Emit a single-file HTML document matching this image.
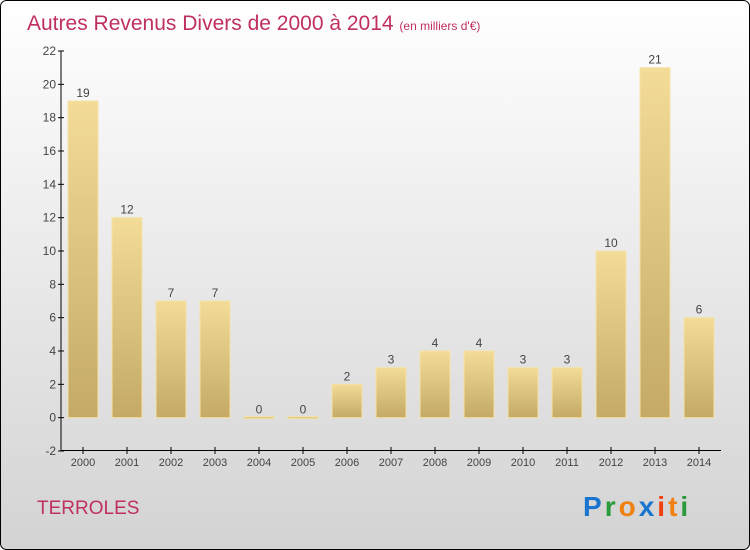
<!DOCTYPE html>
<html><head><meta charset="utf-8"><style>
body{margin:0}
svg{display:block;font-family:"Liberation Sans",sans-serif}
</style></head><body>
<svg id="c" width="750" height="550" xmlns="http://www.w3.org/2000/svg">
<defs>
<linearGradient id="bg" x1="0" y1="0" x2="0" y2="1"><stop offset="0" stop-color="#ffffff"/><stop offset="1" stop-color="#d3d3d3"/></linearGradient>
<linearGradient id="bar" x1="0" y1="0" x2="0" y2="1"><stop offset="0" stop-color="#f3dc98"/><stop offset="1" stop-color="#c4aa64"/></linearGradient>
</defs>
<rect x="0.5" y="0.5" width="749" height="549" rx="6" fill="url(#bg)" stroke="#000"/>
<text x="27" y="30" font-size="21" fill="#c0305f">Autres Revenus Divers de 2000 à 2014 <tspan font-size="12">(en milliers d'€)</tspan></text>
<text x="37" y="514" font-size="19" fill="#c0305f">TERROLES</text>
<g font-size="28" font-weight="bold">
<text x="583" y="516" letter-spacing="3"><tspan fill="#1a75cf">P</tspan><tspan fill="#2a9a3a">r</tspan><tspan fill="#f08010">o</tspan><tspan fill="#1a75cf">x</tspan><tspan fill="#f04010">i</tspan><tspan fill="#f08010">t</tspan><tspan fill="#2a9a3a">i</tspan></text>
</g>
<g id="axes"></g>
<g id="bars"></g>
</svg>
<script>
const categories=["2000","2001","2002","2003","2004","2005","2006","2007","2008","2009","2010","2011","2012","2013","2014"];
const values=[19,12,7,7,0,0,2,3,4,4,3,3,10,21,6];
const yTicks=[-2,0,2,4,6,8,10,12,14,16,18,20,22];
const NS="http://www.w3.org/2000/svg";
const yMin=-2,yMax=22,plotTop=51,plotBot=451,plotLeft=61,plotRight=721;
const yS=v=>plotBot-(v-yMin)/(yMax-yMin)*(plotBot-plotTop);
const step=(plotRight-plotLeft)/categories.length;
const xc=i=>plotLeft+step*(i+0.5);
function mk(t,a,p){const e=document.createElementNS(NS,t);for(const k in a)e.setAttribute(k,a[k]);p.appendChild(e);return e;}
const ax=document.getElementById('axes'),bg=document.getElementById('bars');
const yl=mk('line',{x1:plotLeft,y1:plotTop,x2:plotLeft,y2:plotBot,stroke:'#000'},ax);


const xl=mk('line',{x1:plotLeft,y1:plotBot-0.5,x2:plotRight,y2:plotBot-0.5,stroke:'#000'},ax);


yTicks.forEach(t=>{
 mk('line',{x1:plotLeft-3,x2:plotLeft+3,y1:yS(t),y2:yS(t),stroke:'#000'},ax);
 const tx=mk('text',{x:plotLeft-5,y:yS(t)+4,'text-anchor':'end','font-size':12,fill:'#444'},ax);
 tx.textContent=t;
 
 
});
categories.forEach((c,i)=>{
 const cx=xc(i);
 mk('line',{x1:cx,x2:cx,y1:plotBot-4,y2:plotBot+3,stroke:'#000'},ax);
 const tx=mk('text',{x:cx,y:plotBot+15,'text-anchor':'middle','font-size':11,fill:'#444'},ax);
 tx.textContent=c;
 
 
 const v=values[i];
 const y0=yS(0),yv=yS(v);
 const r=mk('rect',{x:cx-15,y:Math.min(y0,yv)-(v===0?1:0),width:30,height:Math.max(Math.abs(y0-yv),2),fill:'url(#bar)',stroke:'#f5e2a8','stroke-width':1},bg);
 
 
 const lb=mk('text',{x:cx,y:yv-4,'text-anchor':'middle','font-size':12,fill:'#444'},bg);
 lb.textContent=v;
 
 
});
</script>
</body></html>
